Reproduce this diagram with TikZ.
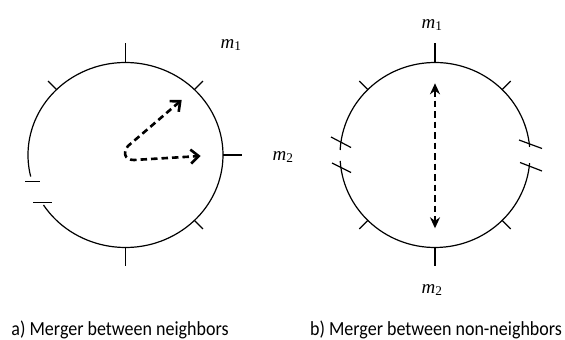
\documentclass[tikz,border=0pt]{standalone}
\usepackage{fontspec}
\setmainfont{Carlito}
\newfontfamily\capfont[FakeStretch=0.9]{Carlito}
\newfontfamily\timesfont{Liberation Serif}
\usetikzlibrary{arrows.meta}
\newcommand{\mlab}[1]{{\timesfont\itshape m}\textsubscript{\timesfont #1}}

\begin{document}
\begin{tikzpicture}[x=1pt, y=1pt,
  rim/.style={line width=1.2pt},
  tick/.style={line width=1.2pt},
  mergearr/.style={line width=2.6pt, dash pattern=on 6.5pt off 4pt},
  lab/.style={font=\fontsize{19}{21}\selectfont, inner sep=0pt},
  captext/.style={font=\capfont\fontsize{20}{22}\selectfont, inner sep=0pt, anchor=base}]
\useasboundingbox (0,0) rectangle (565,340);

% a) merger between neighbours
\coordinate (ca) at (125.5,185);
\draw[rim] (ca) ++(-147.3:97.5 and 92.5)
  arc[start angle=-147.3, end angle=193.5, x radius=97.5, y radius=92.5];
\foreach \a/\l in {90/19, 0/19, -90/19, 45/12, 135/12, -45/12}
  \draw[tick] (ca) ++(\a:97.5 and 92.5) -- ++(\a:\l);
\draw[tick] (25,158.3) -- (40,158.3);
\draw[tick] (33.3,137.7) -- (51.7,137.7);
\node[lab] (m1a) at (231,295) {\mlab{1}};
\node[lab] (m2a) at (283,183) {\mlab{2}};
\coordinate (pa) at (181.7,240);
\coordinate (pb) at (200.7,184);
\draw[mergearr, {Straight Barb[length=8pt, width=14pt]}-{Straight Barb[length=8pt, width=14pt]}]
  (pa) -- (128,194) .. controls (123,188) and (124,180) .. (134,180) -- (pb);

% b) merger between non-neighbours
\coordinate (cb) at (435,185);
\draw[rim] (cb) ++(5:95 and 92.5)
  arc[start angle=5, end angle=176.9, x radius=95, y radius=92.5];
\draw[rim] (cb) ++(183.7:95 and 92.5)
  arc[start angle=183.7, end angle=355, x radius=95, y radius=92.5];
\foreach \a/\l in {90/19, -90/19, 45/12, 135/12, -135/12, -45/12}
  \draw[tick] (cb) ++(\a:95 and 92.5) -- ++(\a:\l);
\draw[tick] (331,203) -- (351,192.5);
\draw[tick] (332,177) -- (351,167.5);
\draw[tick] (519,200) -- (542,191.5);
\draw[tick] (520,177.5) -- (542,169);
\node[lab] (m1b) at (432,315) {\mlab{1}};
\node[lab] (m2b) at (432,50) {\mlab{2}};
\coordinate (pt) at (435,256.7);
\coordinate (pd) at (435,111.7);
\draw[mergearr, {Stealth[length=11pt, width=10pt]}-{Stealth[length=11pt, width=10pt]}] (pt) -- (pd);

\node[captext] (capa) at (120,5) {a) Merger between neighbors};
\node[captext] (capb) at (436,5) {b) Merger between non-neighbors};
\end{tikzpicture}
\end{document}
